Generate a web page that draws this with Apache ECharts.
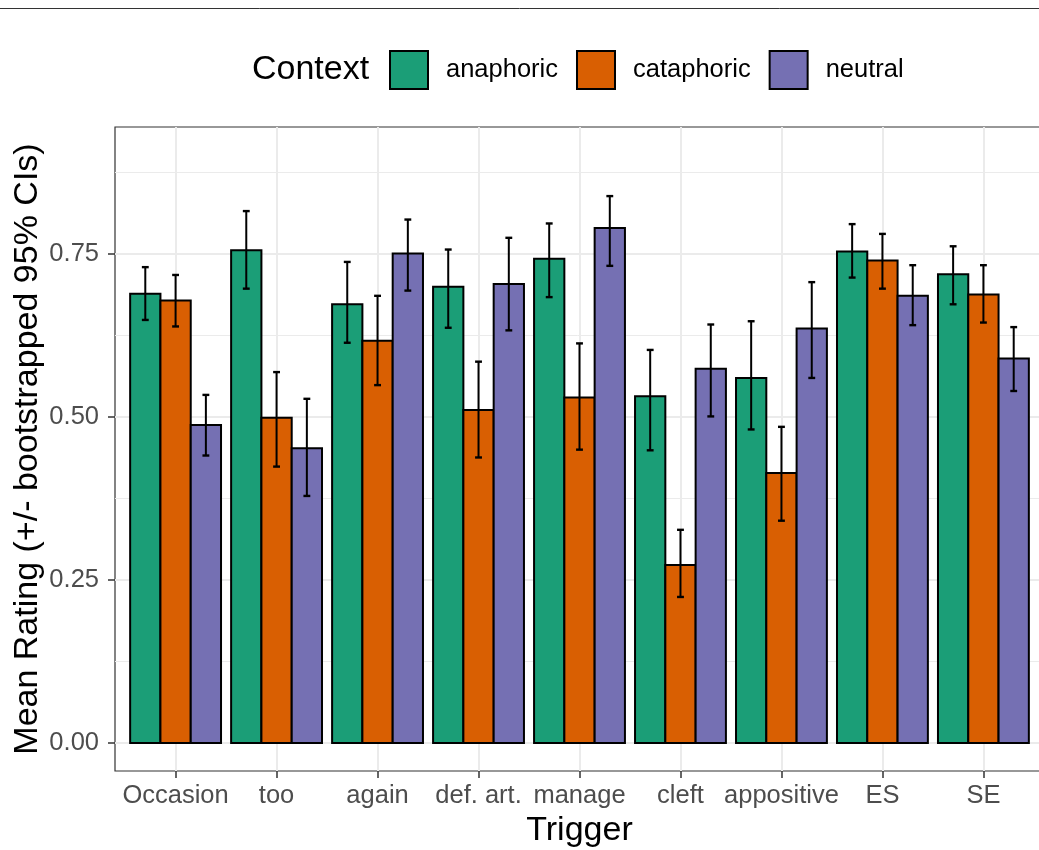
<!DOCTYPE html>
<html>
<head>
<meta charset="utf-8">
<title>Mean Rating by Trigger and Context</title>
<script src="https://cdn.jsdelivr.net/npm/echarts@6/dist/echarts.min.js"></script>
<style>
  html, body { margin: 0; padding: 0; background: #fff; }
  #chart { width: 1039px; height: 850px; }
</style>
</head>
<body>
<div id="chart"></div>
<script>
// Triggers on the x axis
const triggers = ['Occasion', 'too', 'again', 'def. art.', 'manage', 'cleft', 'appositive', 'ES', 'SE'];

// Context levels (legend order)
const contexts = ['anaphoric', 'cataphoric', 'neutral'];

// Mean ratings with bootstrapped 95% CI bounds, per context
const anaphoricMean = [0.689, 0.756, 0.673, 0.700, 0.743, 0.532, 0.560, 0.754, 0.719];
const anaphoricLow  = [0.649, 0.697, 0.614, 0.637, 0.684, 0.449, 0.481, 0.714, 0.673];
const anaphoricHigh = [0.730, 0.816, 0.738, 0.757, 0.797, 0.603, 0.647, 0.796, 0.762];

const cataphoricMean = [0.679, 0.499, 0.617, 0.511, 0.530, 0.273, 0.414, 0.740, 0.688];
const cataphoricLow  = [0.639, 0.424, 0.549, 0.438, 0.450, 0.224, 0.341, 0.697, 0.645];
const cataphoricHigh = [0.718, 0.569, 0.686, 0.585, 0.613, 0.327, 0.485, 0.781, 0.733];

const neutralMean = [0.488, 0.452, 0.751, 0.704, 0.790, 0.574, 0.636, 0.686, 0.590];
const neutralLow  = [0.441, 0.379, 0.694, 0.633, 0.732, 0.501, 0.560, 0.641, 0.540];
const neutralHigh = [0.534, 0.528, 0.803, 0.775, 0.839, 0.642, 0.707, 0.733, 0.638];

// Axis ticks
const yTicks = [0, 0.25, 0.5, 0.75];
const yMinorTicks = [0.125, 0.375, 0.625, 0.875];

const palette = ['#1B9E77', '#D95F02', '#7570B3'];
const FONT = '"Liberation Sans", Arial, Helvetica, sans-serif';

const groups = [
  { mean: anaphoricMean,  low: anaphoricLow,  high: anaphoricHigh },
  { mean: cataphoricMean, low: cataphoricLow, high: cataphoricHigh },
  { mean: neutralMean,    low: neutralLow,    high: neutralHigh }
];

const DODGE = 0.9;                 // total width of a dodged group (category units)
const BAR_W = DODGE / contexts.length;
const CAP_HALF = 0.034;            // half width of error bar caps

function makeSeries(k) {
  const g = groups[k];
  const data = triggers.map((t, i) => [i, g.mean[i], g.low[i], g.high[i]]);
  return {
    name: contexts[k],
    type: 'custom',
    xAxisIndex: 0,
    yAxisIndex: 0,
    itemStyle: { color: palette[k], borderColor: '#000', borderWidth: 2 },
    encode: { x: 0, y: [1, 2, 3] },
    data: data,
    renderItem: function (params, api) {
      const i = api.value(0);
      const v = api.value(1);
      const lo = api.value(2);
      const hi = api.value(3);
      const x0 = i - DODGE / 2 + k * BAR_W;
      const x1 = x0 + BAR_W;
      const xc = x0 + BAR_W / 2;
      const pBase = api.coord([x0, 0]);
      const pTop = api.coord([x1, v]);
      const pHi = api.coord([xc, hi]);
      const pLo = api.coord([xc, lo]);
      const capL = api.coord([xc - CAP_HALF, hi])[0];
      const capR = api.coord([xc + CAP_HALF, hi])[0];
      return {
        type: 'group',
        children: [
          {
            type: 'rect',
            shape: {
              x: pBase[0], y: pTop[1],
              width: pTop[0] - pBase[0], height: pBase[1] - pTop[1]
            },
            style: { fill: palette[k], stroke: '#000', lineWidth: 2 }
          },
          {
            type: 'line',
            shape: { x1: pHi[0], y1: pHi[1], x2: pLo[0], y2: pLo[1] },
            style: { stroke: '#000', lineWidth: 2 }
          },
          {
            type: 'line',
            shape: { x1: capL, y1: pHi[1], x2: capR, y2: pHi[1] },
            style: { stroke: '#000', lineWidth: 2.4 }
          },
          {
            type: 'line',
            shape: { x1: capL, y1: pLo[1], x2: capR, y2: pLo[1] },
            style: { stroke: '#000', lineWidth: 2.4 }
          }
        ]
      };
    }
  };
}

const chart = echarts.init(document.getElementById('chart'), null, { renderer: 'canvas' });

chart.setOption({
  animation: false,
  backgroundColor: '#fff',
  textStyle: { fontFamily: FONT },
  title: {
    text: 'Context',
    left: 252,
    top: 53,
    padding: 0,
    textStyle: { fontFamily: FONT, fontSize: 34, fontWeight: 'normal', color: '#000' }
  },
  legend: {
    data: contexts,
    left: 389,
    top: 50,
    padding: 0,
    icon: 'rect',
    itemWidth: 38,
    itemHeight: 38,
    itemGap: 18,
    itemStyle: { borderColor: '#000', borderWidth: 2 },
    selectedMode: false,
    textStyle: { fontFamily: FONT, fontSize: 25.5, color: '#000', padding: [0, 0, 0, 13] }
  },
  graphic: [
    {
      type: 'line',
      shape: { x1: 0, y1: 8.5, x2: 1039, y2: 8.5 },
      style: { stroke: '#333', lineWidth: 1 },
      silent: true
    }
  ],
  grid: {
    left: 115,
    top: 127,
    width: 929,
    height: 644,
    show: true,
    backgroundColor: '#fff',
    borderColor: '#333333',
    borderWidth: 1.2,
    outerBoundsMode: 'none',
    containLabel: false
  },
  xAxis: [
    {
      type: 'value',
      position: 'bottom',
      min: -0.6,
      max: triggers.length - 1 + 0.6,
      name: 'Trigger',
      nameLocation: 'middle',
      nameGap: 43,
      nameMoveOverlap: false,
      nameTextStyle: { fontFamily: FONT, fontSize: 34, color: '#000' },
      axisLine: { show: false, onZero: false },
      axisTick: {
        show: true, length: 7, inside: false,
        customValues: triggers.map((t, i) => i),
        lineStyle: { color: '#333333', width: 1.5 }
      },
      axisLabel: {
        show: true,
        customValues: triggers.map((t, i) => i),
        formatter: function (val) { return triggers[Math.round(val)]; },
        margin: 12,
        fontFamily: FONT,
        fontSize: 25.5,
        color: '#4D4D4D'
      },
      splitLine: { show: true, lineStyle: { color: '#EBEBEB', width: 2 } }
    }
  ],
  yAxis: [
    {
      type: 'value',
      position: 'left',
      min: -0.043,
      max: 0.945,
      name: 'Mean Rating (+/- bootstrapped 95% CIs)',
      nameLocation: 'middle',
      nameGap: 70,
      nameMoveOverlap: false,
      nameTextStyle: { fontFamily: FONT, fontSize: 34, color: '#000' },
      axisLine: { show: false, onZero: false },
      axisTick: {
        show: true, length: 7, inside: false,
        customValues: yTicks,
        lineStyle: { color: '#333333', width: 1.5 }
      },
      axisLabel: {
        show: true,
        customValues: yTicks,
        formatter: function (val) { return val.toFixed(2); },
        margin: 16,
        fontFamily: FONT,
        fontSize: 25.5,
        color: '#4D4D4D'
      },
      splitLine: { show: true, lineStyle: { color: '#EBEBEB', width: 2 } }
    },
    {
      // minor gridlines between the labelled ticks
      type: 'value',
      position: 'left',
      min: -0.043,
      max: 0.945,
      axisLine: { show: false, onZero: false },
      axisTick: { show: false, customValues: yMinorTicks },
      axisLabel: { show: false, customValues: yMinorTicks },
      splitLine: { show: true, lineStyle: { color: '#EBEBEB', width: 1 } }
    }
  ],
  series: contexts.map((c, k) => makeSeries(k))
});
</script>
</body>
</html>
